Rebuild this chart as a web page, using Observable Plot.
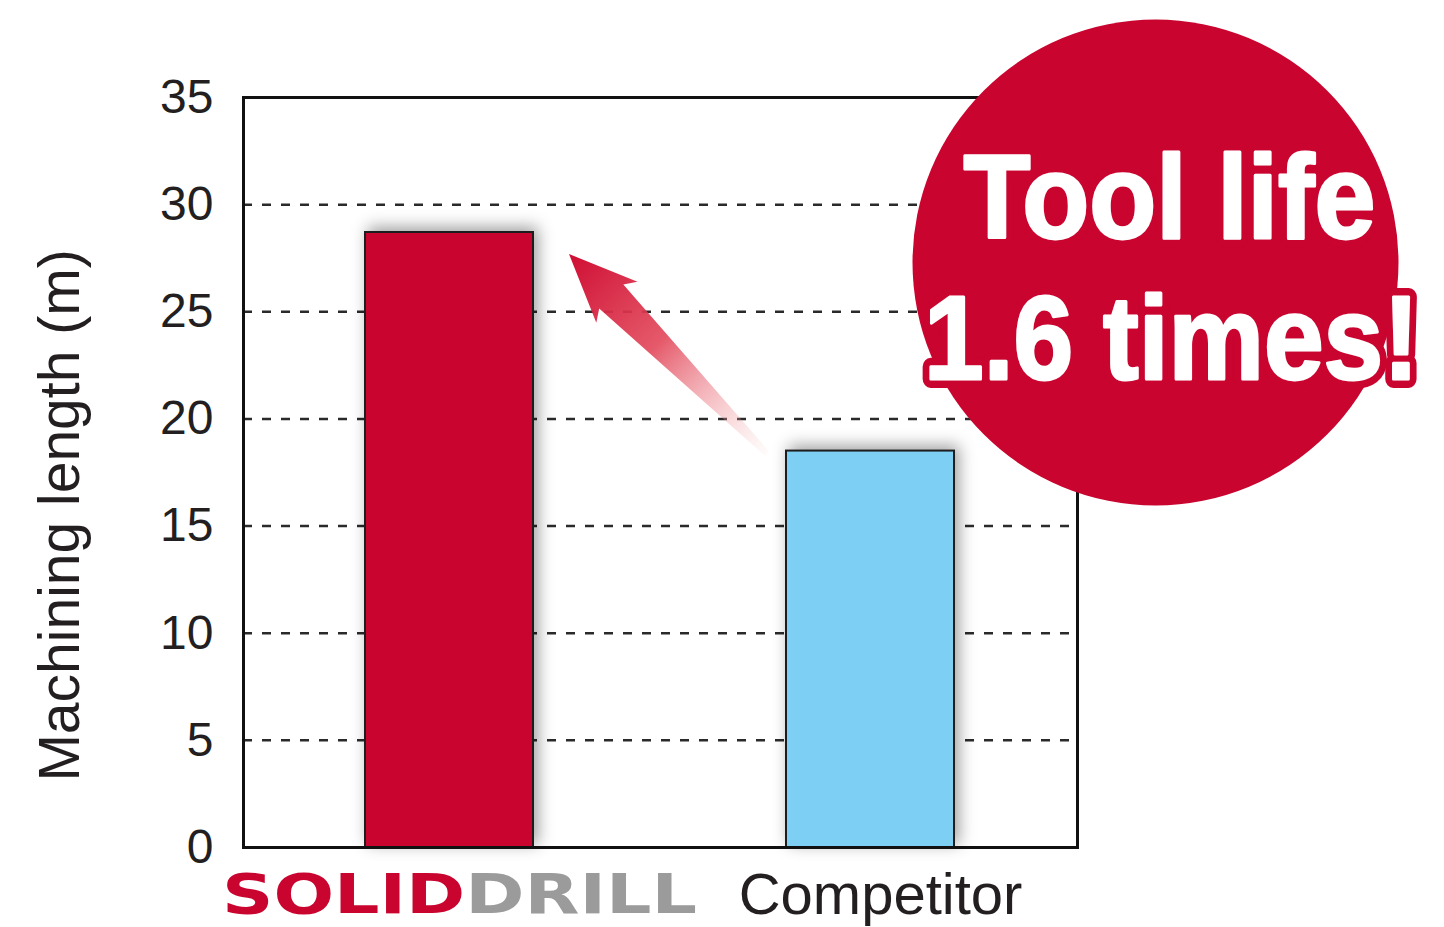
<!DOCTYPE html>
<html>
<head>
<meta charset="utf-8">
<script src="https://cdn.jsdelivr.net/npm/d3@7"></script>
<script src="https://cdn.jsdelivr.net/npm/@observablehq/plot@0.6"></script>
<style>
  html, body { margin: 0; padding: 0; background: #fff; }
  #chart svg { display: block; }
</style>
</head>
<body>
<div id="chart"></div>
<script>
const categories = ["SOLIDDRILL", "Competitor"];
const lengths = [28.7, 18.5];
const barColors = ["#c8042f", "#7dd0f3"];
const yTicks = [0, 5, 10, 15, 20, 25, 30, 35];
const gridTicks = [5, 10, 15, 20, 25, 30];
const yLabel = "Machining length (m)";
const badgeLines = ["Tool life", "1.6 times!"];
const logoParts = ["SOLID", "DRILL"];
const logoColors = ["#c8042f", "#9b9b9b"];

const data = categories.map((name, i) => ({name, value: lengths[i]}));
const badgeRed = "#c8042f";

function arrowMark(index, scales) {
  const x = scales.x, y = scales.y;
  const bw = x.bandwidth ? x.bandwidth() : 0;
  const tip = [x(categories[0]) + bw + 36, y(lengths[0]) + 22];
  const tail = [x(categories[1]) - 19, y(lengths[1]) + 3];
  const dx = tail[0] - tip[0], dy = tail[1] - tip[1];
  const L = Math.hypot(dx, dy);
  const u = [dx / L, dy / L], n = [-u[1], u[0]];
  const P = (a, b) => [tip[0] + u[0] * a + n[0] * b, tip[1] + u[1] * a + n[1] * b];
  const pts = [P(0, 0), P(68, 29), P(60, 17), P(L, 3), P(L, -3), P(60, -17), P(68, -29)];
  const g = d3.create("svg:g");
  const grad = g.append("defs").append("linearGradient")
    .attr("id", "arrowGrad").attr("gradientUnits", "userSpaceOnUse")
    .attr("x1", tip[0]).attr("y1", tip[1]).attr("x2", tail[0]).attr("y2", tail[1]);
  grad.append("stop").attr("offset", 0).attr("stop-color", "#cf0d33").attr("stop-opacity", 1);
  grad.append("stop").attr("offset", 0.45).attr("stop-color", "#e2475a").attr("stop-opacity", 0.9);
  grad.append("stop").attr("offset", 1).attr("stop-color", "#f4b0b0").attr("stop-opacity", 0.05);
  g.append("path")
    .attr("d", "M" + pts.map(p => p.join(",")).join("L") + "Z")
    .attr("fill", "url(#arrowGrad)");
  return g.node();
}

const badgeText = (line, dx, dy, stroke, strokeWidth) =>
  Plot.text([line], {text: d => d, frameAnchor: "top-right", textAnchor: "middle", lineAnchor: "middle",
    dx, dy, fontSize: 119, fontWeight: "bold", fill: "#fff", stroke, strokeWidth,
    paintOrder: "stroke", strokeLinejoin: "round"});

const chart = Plot.plot({
  width: 1444,
  height: 927,
  marginLeft: 243,
  marginRight: 367,
  marginTop: 97,
  marginBottom: 80,
  style: {fontFamily: "'Liberation Sans', Arial, sans-serif", background: "#fff"},
  x: {domain: categories, paddingInner: 0.6, paddingOuter: 0.29, axis: null},
  y: {domain: [0, 35], axis: null},
  color: {domain: categories, range: barColors},
  marks: [
    Plot.ruleY(gridTicks, {stroke: "#2a2a2a", strokeWidth: 2.5, strokeDasharray: "9,10"}),
    Plot.barY(data, {x: "name", y: "value", fill: "name", stroke: "#1d1d1d", strokeWidth: 2}),
    Plot.frame({stroke: "#111", strokeWidth: 3}),
    Plot.axisY(yTicks, {tickSize: 0, tickPadding: 30, fontSize: 48, color: "#231f20", label: null}),
    Plot.text([yLabel], {text: d => d, frameAnchor: "left", textAnchor: "middle", lineAnchor: "middle",
      rotate: -90, dx: -183, dy: 43, fontSize: 57, fill: "#231f20"}),
    Plot.text(data, {x: "name", text: "name", frameAnchor: "bottom", lineAnchor: "middle",
      dx: 10, dy: 48, fontSize: 58, fill: "#231f20"}),
    arrowMark,
    Plot.dot([0], {frameAnchor: "top-right", dx: 78, dy: 165, r: 243, fill: badgeRed, stroke: null}),
    badgeText(badgeLines[0], 92, 102, badgeRed, 18),
    badgeText(badgeLines[1], 94, 243, badgeRed, 18),
    badgeText(badgeLines[0], 92, 102, "#fff", 3),
    badgeText(badgeLines[1], 94, 243, "#fff", 3)
  ]
});

document.getElementById("chart").appendChild(chart);

const svg = d3.select(chart);
svg.selectAll('g[aria-label="bar"] rect')
  .style("filter", "drop-shadow(4px -4px 8px rgba(0,0,0,0.38))");

svg.selectAll("text").each(function() {
  const t = d3.select(this);
  const s = t.text();
  if (s === categories[0]) {
    t.text("");
    t.attr("font-family", "'DejaVu Sans', sans-serif")
     .attr("font-weight", "bold")
     .attr("font-size", 55)
     .attr("textLength", 475)
     .attr("lengthAdjust", "spacingAndGlyphs");
    logoParts.forEach((p, i) => t.append("tspan").attr("fill", logoColors[i]).text(p));
  } else if (s === badgeLines[0]) {
    t.attr("textLength", 412).attr("lengthAdjust", "spacingAndGlyphs");
  } else if (s === badgeLines[1]) {
    t.attr("textLength", 495).attr("lengthAdjust", "spacingAndGlyphs");
  }
});
</script>
</body>
</html>
